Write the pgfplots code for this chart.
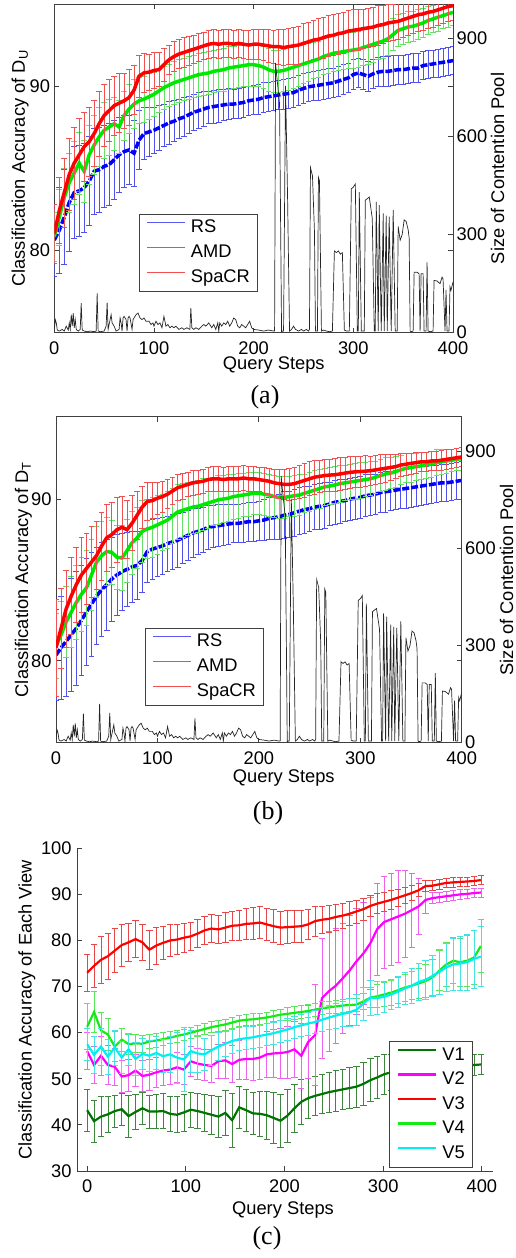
\documentclass[border=0pt]{standalone}
\usepackage{pgfplots}
\pgfplotsset{compat=1.18}
\usepackage{pgfplotstable}
\usepackage{fontspec}
\setmainfont{Liberation Sans}
\newfontfamily\serifcap{Liberation Serif}
\newcommand\axfont{\fontsize{18.3}{21}\selectfont}

\definecolor{rsmain}{RGB}{0,0,255}
\definecolor{rsbar}{RGB}{80,80,235}
\definecolor{rsleg}{RGB}{90,90,240}
\definecolor{amdmain}{RGB}{0,232,0}
\definecolor{amdbar}{RGB}{100,225,100}
\definecolor{amdleg}{RGB}{40,185,40}
\definecolor{spamain}{RGB}{255,0,0}
\definecolor{spabar}{RGB}{240,80,80}
\definecolor{spaleg}{RGB}{240,80,80}
\definecolor{vone}{RGB}{0,115,0}
\definecolor{vonebar}{RGB}{60,135,60}
\definecolor{vtwo}{RGB}{255,0,255}
\definecolor{vtwobar}{RGB}{235,100,235}
\definecolor{vthree}{RGB}{255,0,0}
\definecolor{vthreebar}{RGB}{230,70,70}
\definecolor{vfour}{RGB}{20,235,20}
\definecolor{vfourbar}{RGB}{90,230,90}
\definecolor{vfive}{RGB}{0,240,240}
\definecolor{vfivebar}{RGB}{70,225,225}

\pgfplotstableread{
x rs rse amd amde spa spae
0 80.6 2.2 80.8 1.5 81.0 1.8
5 81.2 2.6 82.0 1.7 82.4 2.0
10 82.0 2.9 83.2 1.8 83.5 2.1
15 82.9 3.0 84.1 1.8 84.6 2.2
20 83.5 2.8 84.7 1.9 85.3 2.2
25 83.6 2.8 85.3 1.9 85.8 2.2
30 83.8 2.7 84.8 1.9 86.3 2.1
35 84.2 2.7 85.8 1.8 86.6 2.1
40 84.8 2.6 86.4 1.8 87.1 2.0
45 84.9 2.6 86.9 1.8 87.7 2.0
50 85.1 2.5 87.3 1.7 88.2 1.9
55 85.2 2.5 87.5 1.7 88.5 1.9
60 85.5 2.4 87.7 1.6 88.8 1.8
65 85.8 2.3 87.5 1.6 88.95 1.8
70 86.0 2.2 88.2 1.5 89.1 1.7
75 86.1 2.1 88.6 1.5 89.3 1.7
80 85.9 2.0 88.9 1.5 89.75 1.5
85 86.7 1.8 89.1 1.4 90.6 1.3
90 87.1 1.6 89.2 1.4 90.8 1.2
95 87.2 1.5 89.35 1.4 90.85 1.1
100 87.3 1.4 89.5 1.35 90.95 1.1
105 87.45 1.35 89.7 1.3 91.0 1.05
110 87.6 1.3 89.9 1.3 91.3 1.0
115 87.75 1.3 90.05 1.3 91.6 0.9
120 87.85 1.25 90.2 1.3 91.8 0.9
125 88.0 1.2 90.3 1.3 91.95 0.9
130 88.1 1.2 90.4 1.3 92.05 0.9
135 88.25 1.15 90.5 1.3 92.15 0.9
140 88.4 1.1 90.6 1.3 92.25 0.85
145 88.5 1.1 90.7 1.3 92.35 0.85
150 88.6 1.05 90.75 1.3 92.45 0.85
155 88.7 1.0 90.8 1.3 92.55 0.85
160 88.75 1.0 90.9 1.3 92.6 0.85
165 88.8 1.0 90.95 1.3 92.55 0.85
170 88.85 0.95 91.0 1.3 92.6 0.85
175 88.9 0.95 91.1 1.3 92.6 0.85
180 88.9 0.9 91.15 1.3 92.55 0.85
185 88.95 0.9 91.2 1.3 92.6 0.85
190 89.0 0.9 91.25 1.3 92.55 0.85
195 89.1 0.9 91.3 1.3 92.5 0.9
200 89.15 0.9 91.3 1.3 92.55 0.9
205 89.2 0.9 91.25 1.3 92.55 0.9
210 89.3 0.9 91.15 1.3 92.5 0.95
215 89.35 0.9 91.0 1.3 92.45 1.0
220 89.4 0.9 90.9 1.3 92.4 1.0
225 89.45 0.9 90.9 1.3 92.4 1.05
230 89.5 0.9 90.95 1.3 92.35 1.1
235 89.55 0.9 91.05 1.3 92.4 1.1
240 89.6 0.9 91.15 1.3 92.45 1.15
245 89.75 0.9 91.25 1.25 92.5 1.15
250 89.85 0.9 91.35 1.2 92.6 1.2
255 89.95 0.9 91.45 1.15 92.7 1.2
260 90.0 0.9 91.55 1.1 92.8 1.2
265 90.05 0.9 91.65 1.1 92.85 1.25
270 90.1 0.9 91.8 1.1 92.95 1.25
275 90.15 0.9 91.9 1.1 93.05 1.25
280 90.2 0.9 92.0 1.1 93.1 1.25
285 90.3 0.9 92.05 1.1 93.2 1.25
290 90.4 0.9 92.1 1.1 93.25 1.25
295 90.5 0.9 92.15 1.1 93.35 1.25
300 90.7 0.9 92.2 1.1 93.4 1.25
305 90.8 0.9 92.25 1.1 93.45 1.25
310 90.7 0.9 92.35 1.1 93.5 1.2
315 90.6 0.9 92.45 1.1 93.55 1.2
320 90.75 0.9 92.55 1.1 93.6 1.2
325 90.85 0.9 92.65 1.05 93.7 1.2
330 90.9 0.9 92.75 1.05 93.75 1.15
335 90.9 0.9 92.9 1.0 93.85 1.15
340 90.95 0.9 93.15 1.0 93.9 1.1
345 91.0 0.9 93.4 1.0 93.95 1.1
350 91.0 0.9 93.5 0.95 94.05 1.1
355 91.05 0.9 93.6 0.95 94.15 1.05
360 91.1 0.9 93.65 0.9 94.25 1.05
365 91.1 0.9 93.75 0.9 94.35 1.0
370 91.25 0.85 93.85 0.9 94.4 1.0
375 91.3 0.85 94.0 0.85 94.5 1.0
380 91.35 0.85 94.1 0.85 94.55 0.95
385 91.4 0.85 94.2 0.85 94.65 0.95
390 91.45 0.85 94.3 0.8 94.75 0.9
395 91.5 0.85 94.4 0.8 94.85 0.9
400 91.55 0.85 94.5 0.8 94.9 0.9
}\taba

\pgfplotstableread{
x rs rse amd amde spa spae
0 80.35 2.8 80.9 2.0 80.8 3.0
5 80.8 3.2 81.6 2.1 82.0 2.5
10 81.2 3.4 82.4 2.2 83.2 2.4
15 81.6 3.5 83.0 2.2 84.0 2.4
20 82.0 3.5 83.6 2.3 84.7 2.3
25 82.5 3.4 84.1 2.3 85.3 2.3
30 83.0 3.3 84.5 2.3 85.7 2.2
35 83.5 3.2 85.3 2.2 86.1 2.2
40 84.0 3.0 86.1 2.2 86.5 2.1
45 84.4 2.9 86.5 2.1 87.1 2.1
50 84.7 2.8 86.75 2.1 87.6 2.1
55 85.05 2.6 86.7 2.0 87.8 2.0
60 85.3 2.5 86.4 2.0 88.1 2.0
65 85.5 2.4 86.35 2.0 88.25 1.9
70 85.65 2.3 86.8 1.95 88.1 1.8
75 85.8 2.2 87.3 1.95 88.5 1.7
80 85.9 2.1 87.6 1.9 89.0 1.5
85 86.2 2.0 88.0 1.9 89.5 1.3
90 86.75 1.9 88.15 1.85 89.85 1.2
95 86.9 1.85 88.25 1.85 89.9 1.1
100 87.0 1.8 88.4 1.8 90.05 1.0
105 87.1 1.75 88.55 1.75 90.15 0.95
110 87.25 1.7 88.7 1.75 90.3 0.9
115 87.35 1.7 88.95 1.7 90.5 0.85
120 87.45 1.65 89.2 1.7 90.7 0.8
125 87.6 1.6 89.3 1.65 90.8 0.8
130 87.75 1.55 89.4 1.65 90.9 0.75
135 87.9 1.5 89.5 1.6 91.0 0.75
140 88.0 1.45 89.55 1.6 91.05 0.75
145 88.1 1.4 89.65 1.6 91.1 0.75
150 88.25 1.35 89.75 1.55 91.2 0.75
155 88.3 1.3 89.85 1.5 91.25 0.75
160 88.35 1.3 89.95 1.5 91.25 0.75
165 88.4 1.25 90.0 1.45 91.2 0.75
170 88.45 1.25 90.05 1.45 91.25 0.75
175 88.5 1.2 90.15 1.4 91.25 0.75
180 88.5 1.2 90.2 1.4 91.25 0.75
185 88.55 1.2 90.25 1.35 91.3 0.75
190 88.6 1.2 90.3 1.35 91.25 0.75
195 88.6 1.2 90.35 1.3 91.25 0.75
200 88.65 1.2 90.35 1.3 91.2 0.75
205 88.7 1.25 90.3 1.3 91.15 0.8
210 88.8 1.3 90.25 1.3 91.1 0.8
215 88.85 1.35 90.15 1.3 91.0 0.85
220 88.9 1.4 90.1 1.3 90.95 0.9
225 89.0 1.45 90.1 1.3 90.9 0.95
230 89.05 1.45 90.15 1.25 90.9 1.0
235 89.15 1.45 90.2 1.25 90.95 1.0
240 89.25 1.45 90.25 1.25 91.05 1.0
245 89.35 1.45 90.35 1.2 91.15 1.05
250 89.4 1.4 90.45 1.2 91.25 1.05
255 89.5 1.4 90.55 1.2 91.35 1.05
260 89.55 1.4 90.65 1.2 91.4 1.0
265 89.6 1.4 90.75 1.15 91.45 1.0
270 89.7 1.35 90.8 1.15 91.48 1.0
275 89.8 1.35 90.87 1.15 91.5 1.0
280 89.85 1.35 90.95 1.15 91.55 1.0
285 89.9 1.3 91.0 1.1 91.6 1.0
290 90.0 1.3 91.05 1.1 91.65 1.0
295 90.05 1.3 91.1 1.1 91.68 0.95
300 90.1 1.3 91.15 1.1 91.7 0.95
305 90.2 1.3 91.2 1.05 91.72 0.95
310 90.25 1.25 91.25 1.05 91.75 0.9
315 90.3 1.25 91.35 1.0 91.8 0.9
320 90.4 1.25 91.45 1.0 91.85 0.9
325 90.45 1.25 91.55 1.0 91.9 0.85
330 90.5 1.2 91.6 0.95 91.95 0.8
335 90.55 1.2 91.7 0.95 92.0 0.75
340 90.6 1.2 91.8 0.9 92.1 0.7
345 90.65 1.2 91.9 0.9 92.15 0.7
350 90.7 1.2 91.95 0.9 92.2 0.65
355 90.75 1.2 92.0 0.85 92.25 0.65
360 90.8 1.2 92.05 0.85 92.3 0.6
365 90.85 1.15 92.1 0.8 92.3 0.6
370 90.9 1.15 92.15 0.8 92.35 0.6
375 90.95 1.15 92.25 0.8 92.35 0.6
380 91.0 1.15 92.3 0.75 92.4 0.6
385 91.0 1.15 92.35 0.75 92.45 0.6
390 91.05 1.15 92.4 0.7 92.5 0.6
395 91.1 1.15 92.45 0.7 92.55 0.6
400 91.15 1.15 92.5 0.7 92.6 0.6
}\tabb

\pgfplotstableread{
x y
0 10
1 40
2 30
3 8
5 5
8 10
10 5
12 20
14 8
15 30
16 10
17 55
18 20
19 60
20 15
21 40
22 10
24 5
26 10
27 90
28 8
30 5
33 3
36 5
40 3
42 5
43 120
44 5
46 3
50 5
52 20
53 92
54 10
56 40
57 55
58 30
60 20
62 5
65 10
66 45
67 30
68 5
69 45
70 50
72 40
73 5
74 45
75 50
76 45
78 10
79 40
80 45
82 55
84 60
86 45
88 40
90 45
92 35
95 35
97 25
99 30
100 20
102 35
104 25
106 30
108 15
110 50
112 20
114 25
116 15
118 20
120 15
122 20
125 10
128 15
130 10
133 15
136 10
137 75
138 15
140 10
142 15
145 10
148 20
150 25
152 20
155 30
158 15
160 25
162 10
164 30
165 5
166 30
168 20
170 30
172 25
174 35
176 20
178 30
180 45
182 40
184 20
186 15
188 25
190 20
192 15
194 25
196 35
198 15
200 10
205 8
210 5
215 8
220 5
221 5
222 825
223 790
226 700
228 3
229 5
230 5
232 755
234 420
236 5
238 10
240 20
242 10
245 5
248 10
250 5
253 10
255 5
256 10
257 505
259 480
261 310
262 5
264 5
265 475
266 465
268 5
270 8
273 5
276 3
279 5
281 250
283 245
285 250
287 240
289 245
291 8
293 5
296 5
298 440
300 445
302 455
304 5
305 5
306 430
308 5
311 5
312 405
314 410
316 415
319 350
321 5
322 5
323 400
325 5
326 390
328 5
330 365
331 5
333 358
334 5
336 355
338 5
340 375
342 5
344 5
345 325
347 283
349 300
351 345
353 340
355 315
356 290
357 5
358 3
360 5
361 185
364 185
366 180
367 5
368 180
370 180
371 5
373 5
374 215
375 5
377 3
380 5
381 160
384 158
387 150
389 170
390 165
392 5
393 130
394 5
396 5
397 140
398 130
400 155
}\pool

\pgfplotstableread{
x v1 v1e v2 v2e v3 v3e v4 v4e v5 v5e
0 43.2 4.5 56.0 4.0 73.0 4.0 61.3 5.0 57.5 3.5
7 40.8 4.5 53.0 4.0 74.5 4.6 64.5 4.5 55.2 4.0
14 41.8 4.3 55.0 4.2 75.8 5.0 60.5 4.0 57.0 4.0
21 42.3 4.0 53.0 4.2 76.6 5.0 59.6 3.5 54.8 3.8
28 43.0 3.5 52.6 4.0 77.8 4.8 57.0 3.3 56.8 3.8
35 43.4 3.5 50.5 3.5 79.0 4.5 58.5 2.5 54.6 3.5
42 41.9 4.5 50.8 3.5 79.6 4.2 57.5 2.2 56.4 3.5
49 42.8 3.8 51.8 3.5 80.3 4.0 57.7 2.0 54.3 3.5
56 43.6 3.5 50.6 3.4 79.6 3.8 57.6 1.8 55.4 3.4
63 42.9 3.6 50.9 3.3 78.0 4.2 58.1 1.6 55.0 3.4
70 42.9 3.7 51.4 3.2 78.9 4.0 58.3 1.5 55.6 3.5
77 43.0 3.8 51.8 3.2 79.5 3.6 58.6 1.4 54.9 3.6
84 42.4 3.8 52.0 3.2 80.0 3.4 58.9 1.3 55.3 4.0
91 42.2 3.9 52.5 3.3 80.2 3.3 59.3 1.3 54.6 5.5
98 42.7 4.0 52.0 3.3 80.6 3.2 59.6 1.2 54.2 7.0
105 43.3 3.8 53.8 3.3 80.9 3.0 60.0 1.2 56.0 4.5
112 43.0 3.8 53.3 3.4 81.5 3.0 60.4 1.2 55.5 4.0
119 42.6 4.0 53.0 3.4 82.2 3.0 60.8 1.2 55.3 3.5
126 42.2 4.2 52.8 3.5 82.6 3.0 61.2 1.2 56.2 3.2
133 41.8 4.4 53.8 3.6 82.4 3.1 61.5 1.2 57.0 3.0
140 42.6 4.8 54.0 3.8 82.8 3.2 61.8 1.2 57.6 2.8
147 41.0 5.8 53.2 4.0 83.2 3.2 62.2 1.2 58.2 2.6
154 43.8 4.5 54.1 4.2 83.3 3.3 62.6 1.2 58.6 2.5
161 43.2 4.5 54.3 4.4 83.6 3.3 62.8 1.2 58.8 2.5
168 42.5 4.6 54.3 4.6 83.7 3.4 62.9 1.2 59.0 2.4
175 42.4 4.8 54.6 4.8 83.9 3.5 63.1 1.2 59.3 2.4
182 42.1 5.2 55.3 5.0 83.5 3.5 63.3 1.2 59.6 2.4
189 41.5 5.6 55.5 5.2 83.1 3.6 63.6 1.2 59.9 2.4
196 40.9 5.8 55.6 5.4 82.8 3.6 63.9 1.2 60.3 2.4
203 42.0 5.8 55.8 5.6 82.9 3.6 64.1 1.4 60.7 2.4
210 43.6 5.3 56.4 6.0 83.0 3.5 64.3 1.4 61.2 2.4
217 45.0 4.8 55.0 7.0 83.1 3.4 64.5 1.4 61.6 2.4
224 45.8 4.3 58.0 8.0 83.5 3.3 64.7 1.4 62.0 2.5
231 46.3 4.2 59.5 11.0 84.2 3.2 65.0 1.4 62.3 2.5
238 46.7 4.3 67.5 13.0 84.5 3.0 65.3 1.4 62.8 2.6
245 47.1 4.3 69.0 13.0 84.7 2.9 65.5 1.4 63.3 2.6
252 47.4 4.4 70.2 12.5 85.1 2.8 65.7 1.4 63.7 2.7
259 47.7 4.4 71.8 12.0 85.4 2.7 65.9 1.4 64.1 2.8
266 48.0 4.5 73.5 12.0 85.8 2.6 66.0 1.4 64.4 3.0
273 48.3 4.5 75.5 11.5 86.3 2.5 66.1 1.4 65.0 3.3
280 48.9 4.6 77.2 11.0 86.8 2.4 66.8 1.8 66.3 3.6
287 49.7 4.7 79.4 10.0 87.5 2.3 67.6 2.2 67.6 3.8
294 50.3 4.6 82.5 10.0 88.0 2.2 67.9 2.5 67.5 3.6
301 51.0 4.4 84.0 10.0 88.4 2.1 68.3 2.6 67.8 3.3
308 51.4 4.0 84.6 10.0 88.8 2.0 68.7 2.7 68.3 3.2
315 51.9 3.6 85.2 10.0 89.3 1.9 69.2 2.8 68.9 3.3
322 52.2 3.3 85.8 9.5 89.8 1.8 69.8 2.9 69.6 3.5
329 52.4 3.0 86.6 8.0 90.3 1.6 70.2 3.0 70.2 3.8
336 52.6 2.8 87.4 6.0 90.9 1.4 70.7 3.3 71.0 4.0
343 52.8 2.6 88.8 3.0 91.8 1.2 71.2 3.6 71.5 4.2
350 53.0 2.4 89.2 1.2 91.9 1.1 72.0 4.0 72.3 4.5
357 53.1 2.3 89.4 1.1 92.2 1.0 73.5 4.4 73.2 4.8
364 53.2 2.3 89.6 1.0 92.5 1.0 74.8 4.8 74.2 5.2
371 53.1 2.2 89.8 1.0 92.6 1.0 75.6 5.0 74.8 5.6
378 53.2 2.2 90.0 1.0 92.7 1.0 75.3 5.2 75.0 5.9
385 53.1 2.2 90.1 1.0 92.8 1.0 75.6 5.5 75.3 6.1
392 53.0 2.2 90.3 1.0 92.9 1.0 76.3 5.8 76.0 6.3
399 53.1 2.2 90.4 1.0 93.1 1.0 78.8 5.8 76.5 6.5
}\tabc

\pgfplotsset{
  base/.style={
    scale only axis,
    axis line style={draw=black!75, line width=0.8pt},
    major tick style={draw=black!75, line width=0.8pt},
    major tick length=5pt,
    tick align=inside,
    /pgf/number format/assume math mode=true,
    tick label style={font=\axfont, text=black},
    label style={font=\axfont, text=black, inner sep=0pt},
    xticklabel style={anchor=base, yshift=-21.5pt},
  },
  ebar/.style n args={2}{forget plot, draw=none, mark=none,
    error bars/.cd, y dir=both, y explicit,
    error bar style={line width=0.7pt, draw=#1},
    error mark options={rotate=90, mark size=#2, line width=0.7pt, draw=#1}},
  mline/.style={forget plot, mark=none},
  leg/.style={legend cell align=left,
    legend image code/.code={\path (0pt,0pt); \draw[##1] (0pt,5.5pt) -- (38pt,5.5pt);},
    legend style={draw=black!75, line width=0.8pt, fill=white, font=\axfont,
      inner xsep=7.5pt, inner ysep=5pt, row sep=8pt, column sep=5pt,
      nodes={inner sep=0pt, text height=13pt, text depth=4pt}}},
}

\begin{document}
\begin{tikzpicture}
\useasboundingbox (0,0) rectangle (516pt,1258pt);

% ---------------- (a) ----------------
\begin{axis}[base, leg, at={(54.3pt,925.3pt)}, anchor=south west,
  width=398.7pt, height=328.6pt,
  xmin=0, xmax=400, ymin=74.95, ymax=95,
  xtick={0,100,200,300,400}, ytick={80,90},
  yticklabel style={anchor=east, inner xsep=0pt, xshift=-4pt},
  xlabel={Query Steps},
  xlabel style={at={(axis description cs:0.5505,-0.112)}, anchor=base},
  ylabel={Classification Accuracy of D\textsubscript{U}},
  ylabel style={at={(axis description cs:-0.0735,0.5)}, anchor=base},
  legend style={at={(axis description cs:0.2124,0.1239)}, anchor=south west}]
\addplot[ebar={rsbar}{2.8pt}] table[x=x, y=rs, y error=rse] {\taba};
\addplot[mline, rsmain, line width=3.5pt, dash pattern=on 7pt off 2pt] table[x=x, y=rs] {\taba};
\addplot[ebar={amdbar}{2.8pt}] table[x=x, y=amd, y error=amde] {\taba};
\addplot[mline, amdmain, line width=3.5pt] table[x=x, y=amd] {\taba};
\addplot[ebar={spabar}{2.8pt}] table[x=x, y=spa, y error=spae] {\taba};
\addplot[mline, spamain, line width=3.5pt] table[x=x, y=spa] {\taba};
\addlegendimage{rsleg, line width=1pt}
\addlegendentry{RS}
\addlegendimage{amdleg, line width=1pt}
\addlegendentry{AMD}
\addlegendimage{spaleg, line width=1pt}
\addlegendentry{SpaCR}
\end{axis}
\begin{axis}[base, at={(54.3pt,925.3pt)}, anchor=south west,
  width=398.7pt, height=328.6pt,
  xmin=0, xmax=400, ymin=0, ymax=1005,
  axis x line=none, axis y line*=right,
  ytick={0,300,600,900},
  yticklabel style={anchor=west, inner xsep=0pt, xshift=3.5pt},
  ylabel={Size of Contention Pool},
  ylabel style={at={(axis description cs:1.128,0.5)}, anchor=base}]
\addplot[mline, black!85, line width=0.7pt] table[x=x, y=y] {\pool};
\end{axis}
\node[font=\serifcap\fontsize{26}{28}\selectfont] at (265pt,861pt) {(a)};

% ---------------- (b) ----------------
\begin{axis}[base, leg, at={(56pt,515.3pt)}, anchor=south west,
  width=405.7pt, height=326pt,
  xmin=0, xmax=400, ymin=74.93, ymax=95.09,
  xtick={0,100,200,300,400}, ytick={80,90},
  yticklabel style={anchor=east, inner xsep=0pt, xshift=-4.3pt},
  xlabel={Query Steps},
  xlabel style={at={(axis description cs:0.5615,-0.1225)}, anchor=base},
  ylabel={Classification Accuracy of D\textsubscript{T}},
  ylabel style={at={(axis description cs:-0.069,0.5)}, anchor=base},
  legend style={at={(axis description cs:0.2194,0.1135)}, anchor=south west}]
\addplot[ebar={rsbar}{2.8pt}] table[x=x, y=rs, y error=rse] {\tabb};
\addplot[mline, rsmain, line width=3.5pt, dash pattern=on 7pt off 2pt] table[x=x, y=rs] {\tabb};
\addplot[ebar={amdbar}{2.8pt}] table[x=x, y=amd, y error=amde] {\tabb};
\addplot[mline, amdmain, line width=3.5pt] table[x=x, y=amd] {\tabb};
\addplot[ebar={spabar}{2.8pt}] table[x=x, y=spa, y error=spae] {\tabb};
\addplot[mline, spamain, line width=3.5pt] table[x=x, y=spa] {\tabb};
\addlegendimage{rsleg, line width=1pt}
\addlegendentry{RS}
\addlegendimage{amdleg, line width=1pt}
\addlegendentry{AMD}
\addlegendimage{spaleg, line width=1pt}
\addlegendentry{SpaCR}
\end{axis}
\begin{axis}[base, at={(56pt,515.3pt)}, anchor=south west,
  width=405.7pt, height=326pt,
  xmin=0, xmax=400, ymin=0, ymax=1008,
  axis x line=none, axis y line*=right,
  ytick={0,300,600,900},
  yticklabel style={anchor=west, inner xsep=0pt, xshift=3.3pt},
  ylabel={Size of Contention Pool},
  ylabel style={at={(axis description cs:1.127,0.5)}, anchor=base}]
\addplot[mline, black!85, line width=0.7pt] table[x=x, y=y] {\pool};
\end{axis}
\node[font=\serifcap\fontsize{26}{28}\selectfont] at (268pt,445pt) {(b)};

% ---------------- (c) ----------------
\begin{axis}[base, at={(77.3pt,87pt)}, anchor=south west,
  width=415.4pt, height=322.7pt,
  xmin=-10, xmax=411, ymin=30, ymax=100,
  axis x line*=bottom, axis y line*=left, axis line style={-},
  xtick={0,100,200,300,400}, ytick={30,40,...,100},
  yticklabel style={anchor=east, inner xsep=0pt, xshift=-5.5pt},
  xlabel={Query Steps},
  xlabel style={at={(axis description cs:0.4952,-0.1333)}, anchor=base},
  ylabel={Classification Accuracy of Each View},
  ylabel style={at={(axis description cs:-0.1098,0.5)}, anchor=base},
  leg,
  legend style={at={(axis description cs:0.7504,0.0093)}, anchor=south west,
    inner ysep=5.5pt, row sep=7.5pt}]
\addplot[ebar={vonebar}{3.2pt}] table[x=x, y=v1, y error=v1e] {\tabc};
\addplot[mline, vone, line width=2.2pt] table[x=x, y=v1] {\tabc};
\addplot[ebar={vtwobar}{3.2pt}] table[x=x, y=v2, y error=v2e] {\tabc};
\addplot[mline, vtwo, line width=2.2pt] table[x=x, y=v2] {\tabc};
\addplot[ebar={vthreebar}{3.2pt}] table[x=x, y=v3, y error=v3e] {\tabc};
\addplot[mline, vthree, line width=2.2pt] table[x=x, y=v3] {\tabc};
\addplot[ebar={vfourbar}{3.2pt}] table[x=x, y=v4, y error=v4e] {\tabc};
\addplot[mline, vfour, line width=2.2pt] table[x=x, y=v4] {\tabc};
\addplot[ebar={vfivebar}{3.2pt}] table[x=x, y=v5, y error=v5e] {\tabc};
\addplot[mline, vfive, line width=2.2pt] table[x=x, y=v5] {\tabc};
\addlegendimage{vone, line width=2.5pt}
\addlegendentry{V1}
\addlegendimage{vtwo, line width=2.5pt}
\addlegendentry{V2}
\addlegendimage{vthree, line width=2.5pt}
\addlegendentry{V3}
\addlegendimage{vfour, line width=2.5pt}
\addlegendentry{V4}
\addlegendimage{vfive, line width=2.5pt}
\addlegendentry{V5}
\end{axis}
\node[font=\serifcap\fontsize{26}{28}\selectfont] at (267pt,20pt) {(c)};
\end{tikzpicture}
\end{document}
